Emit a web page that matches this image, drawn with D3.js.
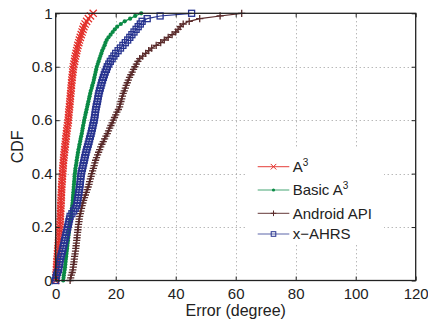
<!DOCTYPE html>
<html><head><meta charset="utf-8">
<script src="https://cdn.jsdelivr.net/npm/d3@7"></script>
<style>body{margin:0;background:#fff}svg{display:block}text{font-family:"Liberation Sans",Arial,sans-serif;fill:#222}</style>
</head><body>
<script>
// Error values (degree), sorted; CDF level i/(n-1)
const errA3 = [0,0.05,0.1,0.2,0.25,0.3, 0.35,0.4,0.5,0.55,0.6, 0.7,0.75,0.85,0.9,1.0, 1.1,1.15,1.25,1.3,1.4,
  1.45,1.5,1.5,1.55,1.6, 1.65,1.7,1.7,1.75,1.8, 1.85,1.9,1.9,1.95,2.0, 2.05,2.1,2.2,2.25,2.3,
  2.35,2.4,2.5,2.55,2.6, 2.7,2.8,2.9,3.0,3.1, 3.2,3.3,3.4,3.5,3.6, 3.7,3.8,3.95,4.1,4.2,
  4.25,4.35,4.4,4.5,4.6, 4.7,4.75,4.85,4.9,5.0, 5.1,5.15,5.25,5.3,5.4, 5.5,5.6,5.7,5.8,5.9,
  6.1,6.3,6.4,6.6,6.8, 7.0,7.2,7.4,7.7,7.9, 8.2,8.5,8.8,9.1,9.4, 9.8,10.3,10.9,11.6,12.5];
const errBasic = [2.5,2.6,2.7,2.85,3.0,3.1, 3.2,3.3,3.4,3.5,3.6, 3.7,3.8,3.9,4.0,4.1, 4.2,4.3,4.4,4.5,4.6,
  4.7,4.8,4.95,5.1,5.2, 5.3,5.4,5.5,5.6,5.7, 5.75,5.8,5.9,5.95,6.0, 6.1,6.15,6.25,6.3,6.4,
  6.5,6.6,6.75,6.9,7.0, 7.15,7.3,7.45,7.6,7.8, 7.95,8.15,8.3,8.5,8.7, 8.85,9.0,9.15,9.35,9.5,
  9.7,9.9,10.1,10.3,10.5, 10.7,10.9,11.1,11.3,11.5, 11.7,12.0,12.2,12.5,12.7, 12.9,13.1,13.3,13.5,13.7,
  14.0,14.3,14.6,14.9,15.2, 15.5,15.9,16.3,16.6,17.0, 17.6,18.3,19.0,19.7,20.5, 21.7,23.0,24.8,26.5,28.5];
const errAndroid = [4.8,5.0,5.2,5.5,5.7,5.85, 5.95,6.1,6.2,6.3,6.45, 6.6,6.7,6.8,6.9,7.0, 7.1,7.2,7.3,7.4,7.5,
  7.6,7.75,7.85,8.0,8.2, 8.4,8.6,8.8,9.05,9.3, 9.6,9.9,10.2,10.5,10.8, 11.1,11.3,11.55,11.8,12.0,
  12.3,12.55,12.8,13.05,13.3, 13.6,13.95,14.3,14.65,15.0, 15.4,15.85,16.3,16.75,17.2, 17.6,18.0,18.4,18.8,19.2,
  19.6,20.0,20.4,20.9,21.3, 21.5,21.75,22.0,22.25,22.5, 22.85,23.2,23.5,23.85,24.2, 24.6,25.05,25.5,25.95,26.4,
  26.9,27.4,28.0,29.0,30.0, 31.0,32.0,33.5,35.0,36.2, 37.5,38.8,40.0,40.8,41.5, 42.5,44.5,48.0,54.8,62.0];
const errAHRS = [0,0.1,0.3,0.6,0.9,1.05, 1.2,1.35,1.5,1.75,1.95, 2.2,2.4,2.6,2.8,3.0, 3.2,3.4,3.6,3.8,4.0,
  4.2,4.4,4.6,4.8,5.4, 6.0,6.5,7.0,7.15,7.3, 7.45,7.6,7.7,7.85,8.0, 8.1,8.2,8.3,8.4,8.5,
  8.7,8.9,9.1,9.3,9.5, 9.7,9.9,10.1,10.35,10.6, 10.85,11.1,11.3,11.55,11.8, 12.0,12.2,12.4,12.6,12.8,
  12.95,13.1,13.2,13.35,13.5, 13.7,13.9,14.05,14.2,14.4, 14.6,14.85,15.1,15.35,15.6, 15.9,16.2,16.5,16.9,17.2,
  17.7,18.2,18.8,19.4,20.0, 20.8,21.6,22.4,23.2,24.0, 24.7,25.4,26.1,26.8,27.5, 28.2,28.8,30.5,34.8,45.3];

const seriesNames = ["A3","Basic A3","Android API","x\u2212AHRS"];
const xTicks = [0,20,40,60,80,100,120];
const yTicks = [0,0.2,0.4,0.6,0.8,1];
const yTickLabels = ["0","0.2","0.4","0.6","0.8","1"];

const W=428,H=325;
const L=55.7,R=415.7,T=13.3,B=280.5;
const svg=d3.select("body").append("svg").attr("width",W).attr("height",H);
const x=d3.scaleLinear().domain([0,120]).range([L,R]);
const y=d3.scaleLinear().domain([0,1]).range([B,T]);

// grid
const grid=svg.append("g").attr("stroke","#9a9a9a").attr("stroke-width",1).attr("stroke-dasharray","1,3");
grid.selectAll("line.gx").data(xTicks.slice(1,-1)).join("line")
  .attr("x1",d=>Math.round(x(d))+0.5).attr("x2",d=>Math.round(x(d))+0.5).attr("y1",T).attr("y2",B);
grid.selectAll("line.gy").data(yTicks.slice(1,-1)).join("line")
  .attr("y1",d=>Math.round(y(d))+0.5).attr("y2",d=>Math.round(y(d))+0.5).attr("x1",L).attr("x2",R);

const series=[
  {name:seriesNames[0],vals:errA3,color:"#e3302b",marker:"x"},
  {name:seriesNames[1],vals:errBasic,color:"#0a8a45",marker:"dot"},
  {name:seriesNames[2],vals:errAndroid,color:"#5a2b2b",marker:"plus"},
  {name:seriesNames[3],vals:errAHRS,color:"#27338f",marker:"square"}
];

function drawMarker(g,type,color,px,py,small){
  const s=small?2.8:3.6, sw=small?1:1.3;
  if(type==="x"){
    g.append("path").attr("d",`M${px-s},${py-s}L${px+s},${py+s}M${px-s},${py+s}L${px+s},${py-s}`)
     .attr("stroke",color).attr("stroke-width",sw).attr("fill","none");
  }else if(type==="plus"){
    g.append("path").attr("d",`M${px-s},${py}L${px+s},${py}M${px},${py-s}L${px},${py+s}`)
     .attr("stroke",color).attr("stroke-width",sw).attr("fill","none");
  }else if(type==="dot"){
    g.append("circle").attr("cx",px).attr("cy",py).attr("r",small?1.6:2.1).attr("fill",color);
  }else{
    const h=small?2.3:3;
    g.append("rect").attr("x",px-h).attr("y",py-h).attr("width",2*h).attr("height",2*h)
     .attr("stroke",color).attr("stroke-width",sw).attr("fill","none");
  }
}

const line=d3.line().x(d=>x(d[0])).y(d=>y(d[1]));
series.forEach(s=>{
  const n=s.vals.length;
  const pts=s.vals.map((v,i)=>[v,i/(n-1)]);
  const g=svg.append("g");
  g.append("path").datum(pts).attr("d",line).attr("fill","none").attr("stroke",s.color).attr("stroke-width",1.2);
  pts.forEach(p=>drawMarker(g,s.marker,s.color,x(p[0]),y(p[1]),false));
});

// axes
const fs="15px";
const ax=svg.append("g").attr("transform",`translate(0,${B})`)
  .call(d3.axisBottom(x).tickValues(xTicks).tickSizeInner(-4).tickSizeOuter(0).tickPadding(7.5));
const ay=svg.append("g").attr("transform",`translate(${L},0)`)
  .call(d3.axisLeft(y).tickValues(yTicks).tickFormat((d,i)=>yTickLabels[i]).tickSizeInner(-4).tickSizeOuter(0).tickPadding(3));
const at=svg.append("g").attr("transform",`translate(0,${T})`)
  .call(d3.axisTop(x).tickValues(xTicks).tickFormat("").tickSizeInner(-4).tickSizeOuter(0));
const ar=svg.append("g").attr("transform",`translate(${R},0)`)
  .call(d3.axisRight(y).tickValues(yTicks).tickFormat("").tickSizeInner(-4).tickSizeOuter(0));
[ax,ay,at,ar].forEach(a=>{a.select(".domain").remove();a.selectAll("line").attr("stroke","#222");
  a.selectAll("text").attr("font-size",fs).attr("fill","#222").attr("font-family","Liberation Sans, Arial, sans-serif");});
svg.append("rect").attr("x",L).attr("y",T).attr("width",R-L).attr("height",B-T)
  .attr("fill","none").attr("stroke","#222").attr("stroke-width",1.3);

// axis labels
svg.append("text").attr("x",(L+R)/2).attr("y",316).attr("text-anchor","middle").attr("font-size","16px").text("Error (degree)");
svg.append("text").attr("transform",`translate(23,${(T+B)/2}) rotate(-90)`).attr("text-anchor","middle").attr("font-size","16px").text("CDF");

// legend
const lg=svg.append("g");
lg.append("rect").attr("x",247).attr("y",149).attr("width",137).attr("height",96).attr("fill","#fff");
const legY=[166.7,190,213.3,234];
series.forEach((s,i)=>{
  const yy=legY[i];
  lg.append("line").attr("x1",257.7).attr("x2",289.3).attr("y1",yy).attr("y2",yy).attr("stroke",s.color).attr("stroke-width",1.2).attr("stroke-opacity",0.75);
  drawMarker(lg,s.marker,s.color,273.5,yy,true);
  const t=lg.append("text").attr("x",292.7).attr("y",yy).attr("dy","0.36em").attr("font-size","15px");
  if(s.name.endsWith("A3")){
    t.append("tspan").text(s.name.slice(0,-1));
    t.append("tspan").attr("dy","-6").attr("font-size","10px").text("3");
  }else{
    t.text(s.name);
  }
});
</script>
</body></html>
